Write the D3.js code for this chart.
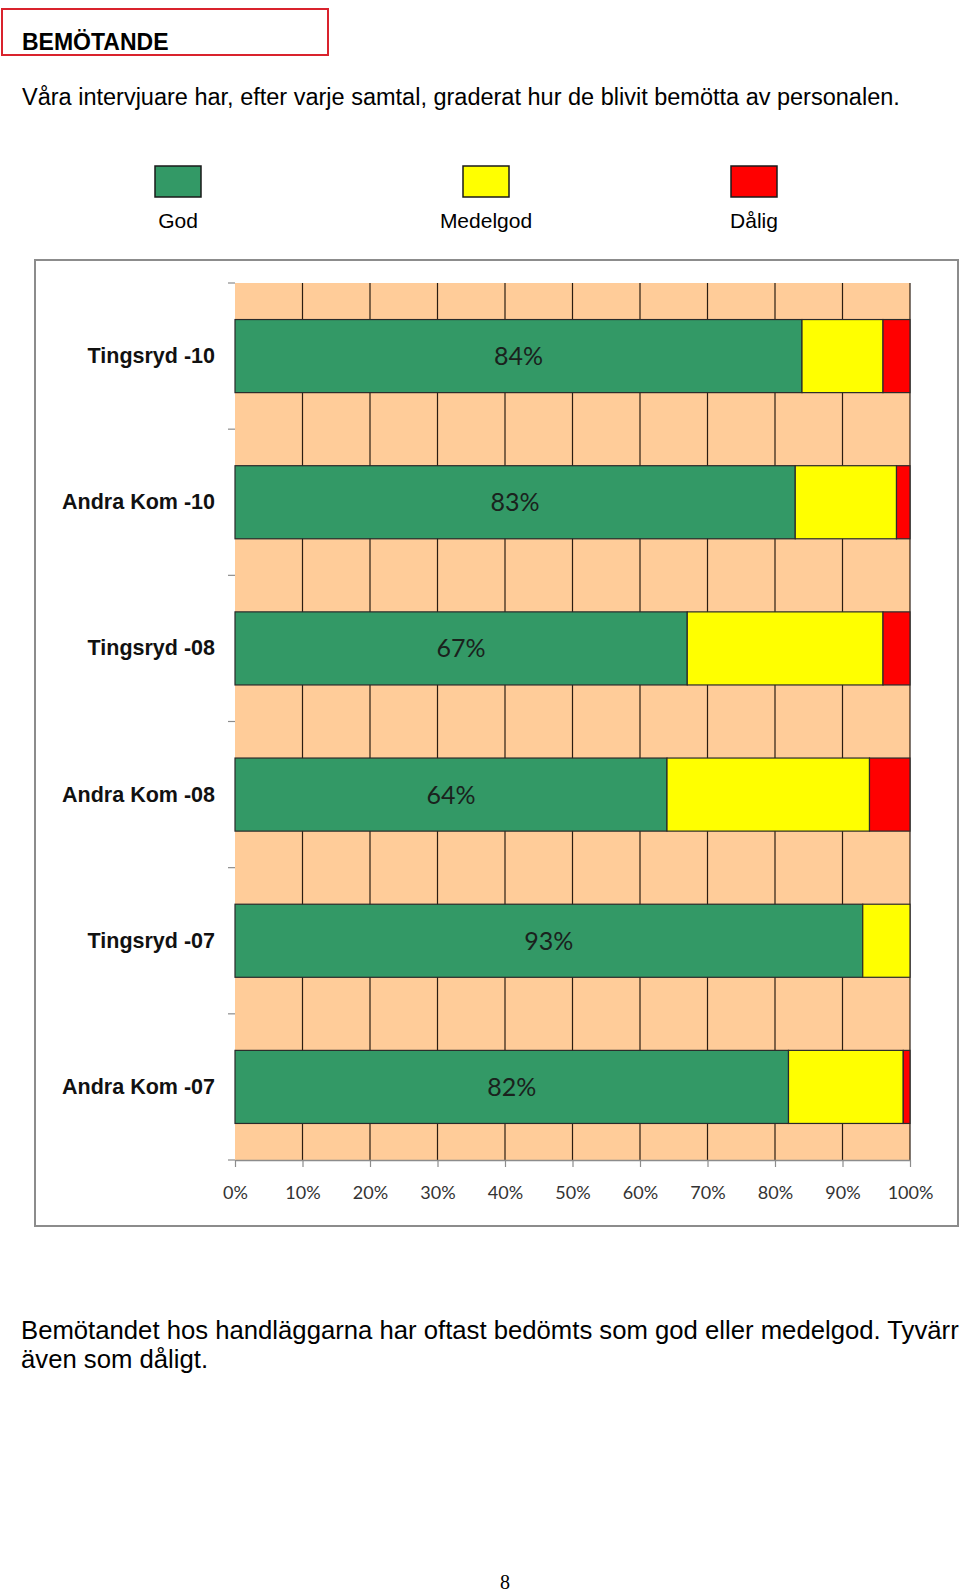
<!DOCTYPE html>
<html>
<head>
<meta charset="utf-8">
<script src="https://cdn.jsdelivr.net/npm/d3@7"></script>
<style>
  html, body { margin: 0; padding: 0; background: #fff; }
  svg { display: block; }
</style>
</head>
<body>
<svg id="chart" width="960" height="1596"></svg>
<script>
// ---- Data ----
const categories = ["Tingsryd -10", "Andra Kom -10", "Tingsryd -08", "Andra Kom -08", "Tingsryd -07", "Andra Kom -07"];
const god      = [84, 83, 67, 64, 93, 82];
const medelgod = [12, 15, 29, 30, 7, 17];
const dalig    = [4, 2, 4, 6, 0, 1];
const seriesNames = ["God", "Medelgod", "Dålig"];
const seriesColors = ["#339966", "#FFFF00", "#FF0000"];
const xTicks = [0, 10, 20, 30, 40, 50, 60, 70, 80, 90, 100];

const heading = "BEMÖTANDE";
const subtitle = "Våra intervjuare har, efter varje samtal, graderat hur de blivit bemötta av personalen.";
const bodyLines = ["Bemötandet hos handläggarna har oftast bedömts som god eller medelgod. Tyvärr", "även som dåligt."];
const pageNumber = "8";

// ---- Drawing ----
const svg = d3.select("#chart");
const SANS = "'Liberation Sans', Arial, sans-serif";

// Heading box
svg.append("rect").attr("x", 2).attr("y", 9).attr("width", 326).attr("height", 46)
  .attr("fill", "none").attr("stroke", "#d9232d").attr("stroke-width", 2);
svg.append("text").attr("x", 22).attr("y", 50).text(heading)
  .attr("font-family", SANS).attr("font-weight", "bold").attr("font-size", 23).attr("fill", "#000");

svg.append("text").attr("x", 22).attr("y", 105).text(subtitle)
  .attr("font-family", SANS).attr("font-size", 23.5).attr("fill", "#000");

// Legend
const legendX = [155, 463, 731];
seriesNames.forEach((name, i) => {
  svg.append("rect").attr("x", legendX[i]).attr("y", 166).attr("width", 46).attr("height", 31)
    .attr("fill", seriesColors[i]).attr("stroke", "#1a1a1a").attr("stroke-width", 1.5);
  svg.append("text").attr("x", legendX[i] + 23).attr("y", 228).attr("text-anchor", "middle")
    .text(name).attr("font-family", SANS).attr("font-size", 21).attr("fill", "#000");
});

// Chart frame
svg.append("rect").attr("x", 35).attr("y", 260).attr("width", 923).attr("height", 966)
  .attr("fill", "#fff").attr("stroke", "#8c8c8c").attr("stroke-width", 2);

const x0 = 235, x1 = 910, y0 = 283, y1 = 1160;
const x = d3.scaleLinear().domain([0, 100]).range([x0, x1]);
const y = d3.scaleBand().domain(categories).range([y0, y1]).paddingInner(0.5).paddingOuter(0.25);

const plot = svg.append("g");
// Peach background
plot.append("rect").attr("x", x0).attr("y", y0).attr("width", x1 - x0).attr("height", y1 - y0)
  .attr("fill", "#FFCC99");
// Vertical gridlines
plot.selectAll("line.grid").data(xTicks.filter(d => d > 0)).enter().append("line")
  .attr("class", "grid")
  .attr("x1", d => x(d)).attr("x2", d => x(d))
  .attr("y1", y0).attr("y2", y1)
  .attr("stroke", "#2b1d12").attr("stroke-width", 1.2);

// Stacked bars
const rows = categories.map((c, i) => ({ cat: c, vals: [god[i], medelgod[i], dalig[i]] }));
rows.forEach(r => {
  let acc = 0;
  r.vals.forEach((v, si) => {
    if (v > 0) {
      plot.append("rect")
        .attr("x", x(acc)).attr("y", y(r.cat))
        .attr("width", x(acc + v) - x(acc)).attr("height", y.bandwidth())
        .attr("fill", seriesColors[si]).attr("stroke", "#2a2a2a").attr("stroke-width", 1.2);
    }
    acc += v;
  });
  // Data label for God
  plot.append("text")
    .attr("x", x(r.vals[0] / 2)).attr("y", y(r.cat) + y.bandwidth() / 2 + 9)
    .attr("text-anchor", "middle")
    .text(r.vals[0] + "%")
    .attr("font-family", "Lato, 'Open Sans', sans-serif").attr("font-size", 25).attr("fill", "#1a221d");
});

// Bottom axis
const xAxis = d3.axisBottom(x).tickValues(xTicks).tickFormat(d => d + "%")
  .tickSize(7).tickSizeOuter(0).tickPadding(19);
const gx = svg.append("g").attr("transform", `translate(0,${y1})`).call(xAxis);
gx.select(".domain").attr("stroke", "#8c8c8c").attr("stroke-width", 1.5);
gx.selectAll(".tick line").attr("stroke", "#8c8c8c").attr("stroke-width", 1.2);
gx.selectAll(".tick text").attr("font-family", "Lato, 'Open Sans', sans-serif").attr("font-size", 18).attr("fill", "#333");

// Left axis: category boundary ticks + labels
const boundaries = d3.range(categories.length + 1).map(i => y0 + i * y.step());
svg.selectAll("line.cb").data(boundaries).enter().append("line")
  .attr("x1", x0 - 7).attr("x2", x0).attr("y1", d => d).attr("y2", d => d)
  .attr("stroke", "#8c8c8c").attr("stroke-width", 1.2);
svg.selectAll("text.cat").data(categories).enter().append("text")
  .attr("x", 215).attr("y", d => y(d) + y.bandwidth() / 2 + 7)
  .attr("text-anchor", "end")
  .text(d => d)
  .attr("font-family", SANS).attr("font-weight", "bold").attr("font-size", 21.5).attr("fill", "#111");

// Body text
bodyLines.forEach((t, i) => {
  svg.append("text").attr("x", 21).attr("y", 1339 + i * 29).text(t)
    .attr("font-family", SANS).attr("font-size", 25.7).attr("fill", "#000");
});

svg.append("text").attr("x", 505).attr("y", 1589).attr("text-anchor", "middle").text(pageNumber)
  .attr("font-family", "'Liberation Serif', 'Times New Roman', serif").attr("font-size", 20).attr("fill", "#000");
</script>
</body>
</html>
